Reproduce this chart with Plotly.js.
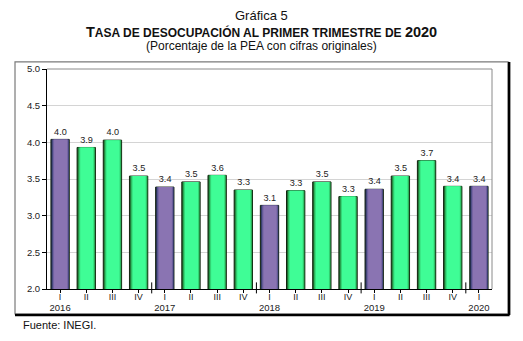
<!DOCTYPE html>
<html><head><meta charset="utf-8">
<script src="https://cdn.plot.ly/plotly-3.0.1.min.js"></script>
<style>html,body{margin:0;padding:0;background:#fff;}#c{width:523px;height:341px;}</style>
</head><body><div id="c"></div>
<script>
var quarters = ["I","II","III","IV","I","II","III","IV","I","II","III","IV","I","II","III","IV","I"];
var years = ["2016","2016","2016","2016","2017","2017","2017","2017","2018","2018","2018","2018","2019","2019","2019","2019","2020"];
var rates = [4.04,3.93,4.03,3.54,3.39,3.46,3.55,3.35,3.14,3.34,3.46,3.26,3.36,3.54,3.75,3.40,3.40];
var rateLabels = ["4.0","3.9","4.0","3.5","3.4","3.5","3.6","3.3","3.1","3.3","3.5","3.3","3.4","3.5","3.7","3.4","3.4"];

var idx = quarters.map(function(_, i){ return i; });
var yearIdx = idx.filter(function(i){ return quarters[i] === "I"; });
var yearText = yearIdx.map(function(i){ return years[i]; });

// gradient layers (offset, width, purple colour, green colour)
var layers = [
  {off:-0.35, w:0.70, p:"#1a2038", g:"#173f1c"},
  {off:-0.325, w:0.665, p:"#2e3660", g:"#1f6e30"},
  {off:-0.30, w:0.625, p:"#4d4f86", g:"#2aa652"},
  {off:-0.27, w:0.575, p:"#7263a2", g:"#34d677"},
  {off:-0.23, w:0.50, p:"#8a74b2", g:"#3ffd96"}
];
var traces = layers.map(function(L, k){
  var top = k === layers.length - 1;
  return {
    type: "bar", x: idx, y: rates, base: 0,
    width: idx.map(function(){ return L.w; }),
    offset: idx.map(function(){ return L.off; }),
    marker: {
      color: quarters.map(function(q){ return q === "I" ? L.p : L.g; }),
      line: {width: k === 0 ? 1 : 0, color: "#142410"}
    },
    text: top ? rateLabels : undefined,
    textposition: top ? "outside" : "none",
    textfont: {family: "Liberation Sans, Arial, sans-serif", size: 10, color: "#222"},
    cliponaxis: false,
    hoverinfo: "skip",
    showlegend: false
  };
});
// invisible trace to carry the year axis
traces.push({type:"scatter", mode:"markers", x: yearIdx, y: yearIdx.map(function(i){ return rates[i]; }),
  xaxis:"x2", yaxis:"y", marker:{opacity:0}, hoverinfo:"skip", showlegend:false});

var shapes = [];
// year boundary ticks
quarters.forEach(function(q, i){
  if (q === "I" && i > 0) {
    shapes.push({type:"line", xref:"x", yref:"paper", x0:i-0.5, x1:i-0.5, y0:-0.02, y1:0.03, line:{color:"#000", width:1}});
  }
});
// plot area border top/right (gray)
shapes.push({type:"line", xref:"paper", yref:"paper", x0:0, x1:1, y0:1, y1:1, line:{color:"#8a8a8a", width:1}});
shapes.push({type:"line", xref:"paper", yref:"paper", x0:1, x1:1, y0:0, y1:1, line:{color:"#8a8a8a", width:1}});
// outer frame
shapes.push({type:"rect", xref:"paper", yref:"paper", x0:-0.0719, x1:1.036, y0:-0.1136, y1:1.032, line:{color:"#7a7a7a", width:1.2}, fillcolor:"rgba(0,0,0,0)", layer:"above"});
shapes.push({type:"line", xref:"paper", yref:"paper", x0:1.0385, x1:1.0385, y0:-0.118, y1:1.032, line:{color:"#000", width:2.5}});
shapes.push({type:"line", xref:"paper", yref:"paper", x0:-0.0719, x1:1.0395, y0:-0.1185, y1:-0.1185, line:{color:"#000", width:2.5}});

var F = "Liberation Sans, Arial, sans-serif";
var xr = [-0.5, quarters.length - 0.5];
var layout = {
  width: 523, height: 341,
  margin: {l:47, r:31, t:69, b:52},
  paper_bgcolor: "#fff", plot_bgcolor: "#fff",
  barmode: "overlay",
  showlegend: false,
  font: {family: F, color: "#222"},
  xaxis: {
    range: xr,
    tickmode: "array", tickvals: idx, ticktext: quarters,
    ticks: "outside", ticklen: 3, tickcolor: "#000",
    ticklabelstandoff: -4,
    showline: true, linecolor: "#000", linewidth: 1,
    showgrid: false, zeroline: false,
    tickfont: {family: F, size: 9, color: "#222"}
  },
  xaxis2: {
    range: xr, overlaying: "x", side: "bottom", anchor: "y",
    tickmode: "array", tickvals: yearIdx, ticktext: yearText,
    ticks: "", ticklabelstandoff: 11,
    showline: false, showgrid: false, zeroline: false,
    tickfont: {family: F, size: 9.5, color: "#222"}
  },
  yaxis: {
    range: [2, 5], dtick: 0.5, tick0: 2, tickformat: ".1f",
    ticks: "outside", ticklen: 4, tickcolor: "#000",
    showline: true, linecolor: "#000", linewidth: 1,
    gridcolor: "#d4d4d4", gridwidth: 1, zeroline: false,
    tickfont: {family: F, size: 9.5, color: "#222"}
  },
  shapes: shapes,
  annotations: [
    {xref:"paper", yref:"paper", x:0.482, y:1.245, xanchor:"center", yanchor:"middle", showarrow:false,
     text:"Gráfica 5", font:{family:F, size:13, color:"#111"}},
    {xref:"paper", yref:"paper", x:0.482, y:1.168, xanchor:"center", yanchor:"middle", showarrow:false,
     text:"<b><span style=\"font-size:14.5px\">T</span>ASA DE DESOCUPACIÓN AL PRIMER TRIMESTRE DE <span style=\"font-size:14.5px\">2020</span></b>",
     font:{family:F, size:12, color:"#111"}},
    {xref:"paper", yref:"paper", x:0.482, y:1.105, xanchor:"center", yanchor:"middle", showarrow:false,
     text:"(Porcentaje de la PEA con cifras originales)", font:{family:F, size:12, color:"#111"}},
    {xref:"paper", yref:"paper", x:-0.058, y:-0.164, xanchor:"left", yanchor:"middle", showarrow:false,
     text:"Fuente: INEGI.", font:{family:F, size:11, color:"#111"}}
  ]
};
Plotly.newPlot("c", traces, layout, {displayModeBar:false, staticPlot:true});
</script></body></html>
